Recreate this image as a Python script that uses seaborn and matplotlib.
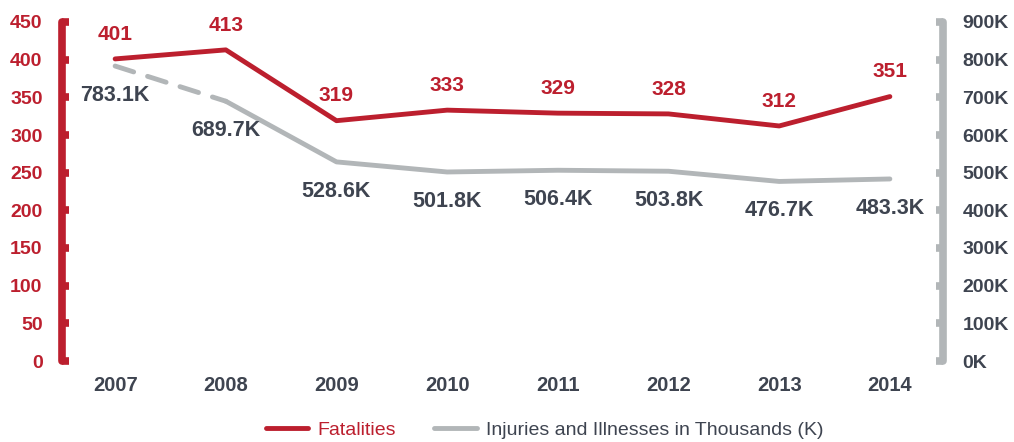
import matplotlib.pyplot as plt
import matplotlib.lines as mlines
import numpy as np
import seaborn as sns

sns.set_style("white")
plt.rcParams['font.family'] = ['Liberation Sans', 'DejaVu Sans']

years = ['2007', '2008', '2009', '2010', '2011', '2012', '2013', '2014']
fatalities = [401, 413, 319, 333, 329, 328, 312, 351]
injuries = [783.1, 689.7, 528.6, 501.8, 506.4, 503.8, 476.7, 483.3]  # thousands

RED = '#bc1f2e'
GRAY = '#b2b6b8'
DARK = '#3e4450'

x = np.arange(len(years))

fig = plt.figure(figsize=(10.14, 4.42), dpi=100)
ax = fig.add_axes([62 / 1014, 81 / 442, (943 - 62) / 1014, (361 - 22) / 442])
ax2 = ax.twinx()

# injuries: first segment dashed, rest solid
sns.lineplot(x=x[:2], y=injuries[:2], ax=ax2, color=GRAY, linewidth=3.5,
             linestyle=(0, (4, 3)), solid_capstyle='round', dash_capstyle='round')
sns.lineplot(x=x[1:], y=injuries[1:], ax=ax2, color=GRAY, linewidth=3.5,
             solid_capstyle='round')
sns.lineplot(x=x, y=fatalities, ax=ax, color=RED, linewidth=3.5,
             solid_capstyle='round')

ax.set_zorder(ax2.get_zorder() + 1)
ax.patch.set_visible(False)

ax.set_xlim(-0.48, 7.48)
ax.set_ylim(0, 450)
ax2.set_ylim(0, 900)
ax.set_yticks(np.arange(0, 451, 50))
ax2.set_yticks(np.arange(0, 901, 100))
ax2.set_yticklabels([f'{v}K' for v in range(0, 901, 100)])
ax.set_xticks(x)
ax.set_xticklabels(years)
ax.set_xlabel('')
ax.set_ylabel('')
ax2.set_ylabel('')

for a in (ax, ax2):
    for s in a.spines.values():
        s.set_visible(False)

ax.spines['left'].set_visible(True)
ax.spines['left'].set_color(RED)
ax.spines['left'].set_linewidth(5.5)
ax.spines['left'].set_capstyle('round')
ax2.spines['right'].set_visible(True)
ax2.spines['right'].set_color(GRAY)
ax2.spines['right'].set_linewidth(5.5)
ax2.spines['right'].set_capstyle('round')

ax.tick_params(axis='y', direction='in', length=5, width=5.5, color=RED,
               labelcolor=RED, labelsize=14, pad=14, left=True)
ax2.tick_params(axis='y', direction='in', length=5, width=5.5, color=GRAY,
                labelcolor=DARK, labelsize=14, pad=14, right=True)
ax.tick_params(axis='x', length=0, labelcolor=DARK, labelsize=14.5, pad=11)
for lbl in ax.get_yticklabels() + ax.get_xticklabels() + ax2.get_yticklabels():
    lbl.set_fontweight('bold')

# value labels
for xi, v in zip(x, fatalities):
    ax.annotate(str(v), (xi, v), xytext=(0, 11), textcoords='offset points',
                ha='center', va='bottom', color=RED, fontsize=15, fontweight='bold')
for xi, v in zip(x, injuries):
    ax2.annotate(f'{v:.1f}K', (xi, v), xytext=(0, -13.5), textcoords='offset points',
                 ha='center', va='top', color=DARK, fontsize=15.5, fontweight='bold')

handles = [mlines.Line2D([], [], color=RED, linewidth=3.5, solid_capstyle='round'),
           mlines.Line2D([], [], color=GRAY, linewidth=3.5, solid_capstyle='round')]
leg = fig.legend(handles, ['Fatalities', 'Injuries and Illnesses in Thousands (K)'],
                 loc='lower center', bbox_to_anchor=(0.537, -0.033), ncol=2, frameon=False,
                 fontsize=14, handlelength=2.2, handletextpad=0.45, columnspacing=2.0)
leg.get_texts()[0].set_color(RED)
leg.get_texts()[1].set_color(DARK)

fig.savefig('out.png', dpi=100)
